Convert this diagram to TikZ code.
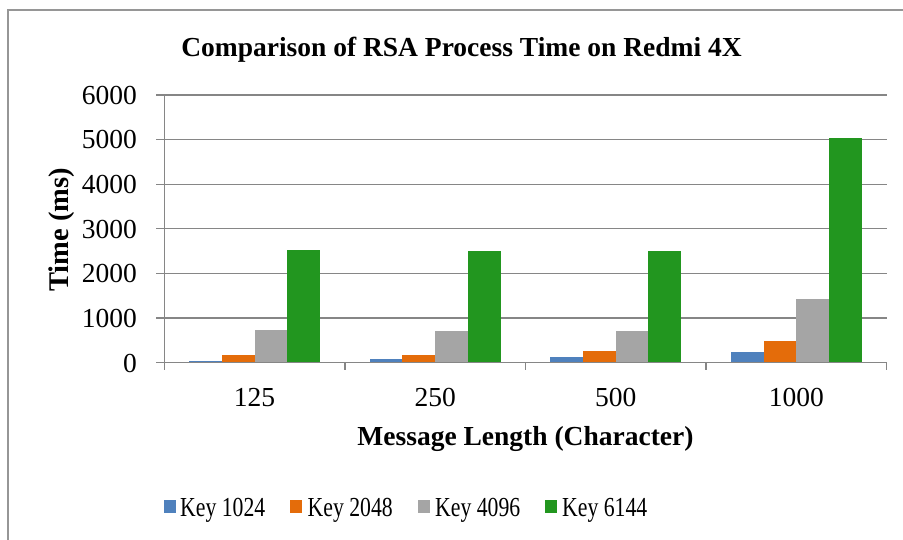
\documentclass[tikz,border=0pt]{standalone}
\usepackage{fontspec}
\setmainfont{Liberation Serif}
\definecolor{keyA}{RGB}{79,129,189}
\definecolor{keyB}{RGB}{228,108,10}
\definecolor{keyC}{RGB}{165,165,165}
\definecolor{keyD}{RGB}{34,150,31}
\definecolor{gridgray}{RGB}{134,134,134}
\definecolor{framegray}{RGB}{150,150,150}
\tikzset{
  gridline/.style={draw=gridgray, line width=1.3pt},
  axisline/.style={draw=gridgray, line width=1.3pt},
  ticklabel/.style={font=\fontsize{27.5}{30}\selectfont, inner sep=0pt},
  axistitle/.style={font=\fontsize{27.5}{30}\selectfont\bfseries, inner sep=0pt},
  legendtext/.style={font=\fontsize{27.5}{30}\selectfont, inner sep=0pt, anchor=base west},
  legendbox/.style={inner sep=0pt, minimum width=12pt, minimum height=13.5pt, anchor=west},
}
\newcommand{\legendlabel}[1]{\scalebox{0.79}[1]{#1}}
\begin{document}
\begin{tikzpicture}[x=1pt, y=-1pt]
\useasboundingbox (0,0) rectangle (903,540);
\fill[white] (0,0) rectangle (903,540);
% chart frame: only its left and top sides fall inside the picture
\draw[framegray, line width=1.2pt] (8,540) -- (8,10) -- (903,10);

% horizontal gridlines with their left tick marks
\foreach \v in {1000,2000,...,6000}
  \draw[gridline] (156,{362.7-\v*0.04462}) -- (886.7,{362.7-\v*0.04462});
\draw[gridline] (156,362.7) -- (164.3,362.7);

% bars: one group per message length, one bar per key size
\foreach \vals [count=\i from 0] in {
    {31/keyA,166/keyB,730/keyC,2520/keyD},
    {76/keyA,166/keyB,717/keyC,2504/keyD},
    {135/keyA,256/keyB,711/keyC,2504/keyD},
    {233/keyA,487/keyB,1421/keyC,5031/keyD}} {
  \foreach \v/\c [count=\j from 0] in \vals {
    \pgfmathsetmacro\bx{189.1+\i*180.6+\j*32.7}
    \fill[\c] (\bx,362.7) rectangle ({\bx+32.7},{362.7-\v*0.04462});
  }
}

% axes
\draw[axisline] (164.3,95) -- (164.3,362.7);
\draw[axisline] (164.3,362.7) -- (886.7,362.7);
\foreach \k in {0,...,4}
  \draw[axisline] ({164.3+\k*180.6},362.7) -- ({164.3+\k*180.6},370);

% value axis labels
\foreach \v [count=\n] in {0,1000,2000,3000,4000,5000,6000}
  \node[ticklabel, anchor=base east] (ylab\n) at (137,{362.7-\v*0.04462+9.3}) {\v};

% category labels
\node[ticklabel, anchor=base] (xlab1) at (254.6,406) {125};
\node[ticklabel, anchor=base] (xlab2) at (435.2,406) {250};
\node[ticklabel, anchor=base] (xlab3) at (615.8,406) {500};
\node[ticklabel, anchor=base] (xlab4) at (796.4,406) {1000};

% titles
\node[axistitle, anchor=base] (title) at (461.5,56.7) {Comparison of RSA Process Time on Redmi 4X};
\node[axistitle, anchor=base] (xtitle) at (525.5,445) {Message Length (Character)};
\node[axistitle, anchor=base, rotate=90, font=\fontsize{28.5}{30}\selectfont\bfseries] (ytitle) at (68.5,230) {Time (ms)};

% legend
\node[legendbox, fill=keyA] (swA) at (163.3,506.5) {};
\node[legendtext] (lgA) at (180,516.7) {\legendlabel{Key 1024}};
\node[legendbox, fill=keyB] (swB) at (290,506.5) {};
\node[legendtext] (lgB) at (307.5,516.7) {\legendlabel{Key 2048}};
\node[legendbox, fill=keyC] (swC) at (417.3,506.5) {};
\node[legendtext] (lgC) at (435,516.7) {\legendlabel{Key 4096}};
\node[legendbox, fill=keyD] (swD) at (544.3,506.5) {};
\node[legendtext] (lgD) at (562,516.7) {\legendlabel{Key 6144}};
\end{tikzpicture}
\end{document}
